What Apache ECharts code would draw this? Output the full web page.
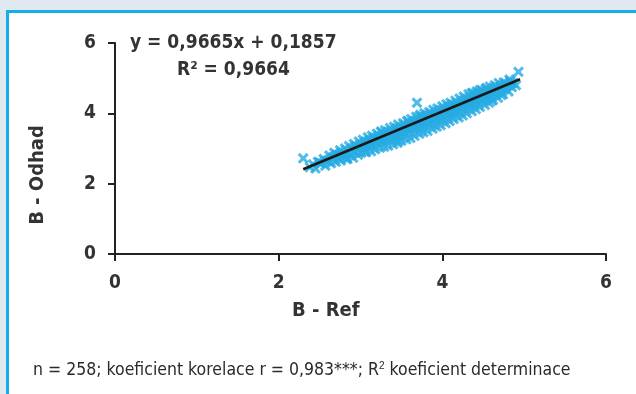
<!DOCTYPE html>
<html>
<head>
<meta charset="utf-8">
<script src="https://cdn.jsdelivr.net/npm/echarts@6/dist/echarts.min.js"></script>
<style>
  html, body { margin: 0; padding: 0; background: #dfe9ef; }
  #chart { width: 636px; height: 394px; }
</style>
</head>
<body>
<div id="chart"></div>
<script>
// B - Ref (x), B - Odhad (y)
var bRef = [
    2.38, 2.42, 2.45, 2.48, 2.52, 2.55, 2.57, 2.60, 2.62, 2.64, 2.66, 2.68, 2.70, 2.71, 2.73, 2.75,
    2.76, 2.78, 2.80, 2.81, 2.83, 2.85, 2.86, 2.88, 2.89, 2.91, 2.92, 2.94, 2.95, 2.97, 2.98, 3.00,
    3.01, 3.03, 3.04, 3.06, 3.07, 3.09, 3.10, 3.11, 3.13, 3.14, 3.15, 3.17, 3.18, 3.20, 3.21, 3.22,
    3.24, 3.25, 3.26, 3.28, 3.29, 3.30, 3.32, 3.33, 3.34, 3.36, 3.37, 3.38, 3.40, 3.41, 3.42, 3.44,
    3.45, 3.46, 3.48, 3.49, 3.50, 3.52, 3.53, 3.54, 3.56, 3.57, 3.58, 3.60, 3.61, 3.62, 3.64, 3.65,
    3.66, 3.68, 3.69, 3.70, 3.72, 3.73, 3.74, 3.76, 3.77, 3.78, 3.80, 3.81, 3.82, 3.84, 3.85, 3.86,
    3.88, 3.89, 3.90, 3.92, 3.93, 3.94, 3.96, 3.97, 3.98, 4.00, 4.01, 4.02, 4.04, 4.05, 4.06, 4.08,
    4.09, 4.10, 4.12, 4.13, 4.14, 4.16, 4.17, 4.18, 4.20, 4.21, 4.22, 4.24, 4.25, 4.26, 4.28, 4.29,
    4.30, 4.32, 4.33, 4.34, 4.36, 4.37, 4.38, 4.40, 4.41, 4.42, 4.44, 4.45, 4.46, 4.48, 4.49, 4.50,
    4.52, 4.53, 4.54, 4.56, 4.57, 4.58, 4.60, 4.61, 4.62, 4.64, 4.65, 4.66, 4.68, 4.69, 4.70, 4.72,
    4.74, 4.75, 4.77, 4.79, 4.81, 4.83, 4.85, 4.87, 4.90,
    2.50, 2.58, 2.67, 2.74, 2.82, 2.90, 2.96, 3.02, 3.08, 3.12, 3.16, 3.19, 3.23, 3.27, 3.31, 3.35,
    3.39, 3.43, 3.47, 3.51, 3.55, 3.59, 3.63, 3.67, 3.71, 3.75, 3.79, 3.83, 3.87, 3.91, 3.95, 3.99,
    4.03, 4.07, 4.11, 4.15, 4.19, 4.23, 4.27, 4.31, 4.35, 4.39, 4.43, 4.47, 4.51, 4.55, 4.59, 4.63,
    4.67, 4.71, 4.76, 4.80, 4.84, 3.36, 3.44, 3.52, 3.60, 3.68, 3.76, 3.84, 3.92, 4.00, 4.08, 4.16,
    4.24, 4.32, 4.40, 4.48, 4.56, 4.64, 3.58, 3.72, 4.36, 4.46, 4.54, 3.26, 3.06, 3.46, 2.84, 4.72,
    4.82, 4.60, 2.30, 3.69, 4.93
];
var bOdhad = [
    2.47, 2.55, 2.43, 2.62, 2.58, 2.70, 2.51, 2.66, 2.80, 2.58, 2.72, 2.88, 2.62, 2.82, 2.72, 2.95,
    2.66, 2.88, 2.76, 3.00, 2.70, 2.90, 3.07, 2.80, 2.97, 2.74, 3.13, 2.90, 3.02, 2.82, 3.20, 3.05,
    2.88, 3.25, 3.00, 3.12, 2.90, 3.32, 3.06, 3.18, 2.92, 3.36, 3.10, 3.22, 2.98, 3.42, 3.15, 3.28,
    3.02, 3.48, 3.20, 3.32, 3.05, 3.52, 3.24, 3.38, 3.08, 3.58, 3.28, 3.42, 3.12, 3.62, 3.34, 3.48,
    3.16, 3.68, 3.38, 3.52, 3.22, 3.72, 3.44, 3.58, 3.26, 3.78, 3.48, 3.64, 3.30, 3.84, 3.54, 3.68,
    3.36, 3.90, 3.58, 3.72, 3.42, 3.96, 3.62, 3.78, 3.46, 4.00, 3.68, 3.82, 3.50, 4.04, 3.72, 3.88,
    3.56, 4.10, 3.78, 3.92, 3.62, 4.14, 3.84, 3.98, 3.66, 4.20, 3.88, 4.02, 3.72, 4.26, 3.94, 4.08,
    3.78, 4.30, 3.98, 4.14, 3.84, 4.36, 4.04, 4.18, 3.88, 4.42, 4.10, 4.24, 3.94, 4.48, 4.16, 4.30,
    4.00, 4.54, 4.22, 4.34, 4.06, 4.58, 4.28, 4.40, 4.12, 4.62, 4.32, 4.46, 4.18, 4.66, 4.38, 4.52,
    4.24, 4.70, 4.44, 4.56, 4.30, 4.76, 4.50, 4.62, 4.38, 4.80, 4.56, 4.68, 4.44, 4.86, 4.62, 4.74,
    4.54, 4.88, 4.70, 4.80, 4.62, 4.92, 4.74, 4.86, 4.80,
    2.60, 2.64, 2.76, 2.82, 2.84, 2.96, 3.04, 3.10, 3.14, 3.22, 3.24, 3.26, 3.32, 3.34, 3.38, 3.42,
    3.46, 3.50, 3.54, 3.58, 3.60, 3.66, 3.70, 3.74, 3.78, 3.82, 3.86, 3.90, 3.94, 3.98, 4.02, 4.06,
    4.10, 4.14, 4.18, 4.20, 4.24, 4.28, 4.32, 4.36, 4.40, 4.44, 4.48, 4.52, 4.56, 4.60, 4.64, 4.68,
    4.72, 4.76, 4.80, 4.82, 4.86, 3.30, 3.38, 3.48, 3.56, 3.64, 3.70, 3.78, 3.86, 3.94, 4.00, 4.10,
    4.16, 4.26, 4.30, 4.42, 4.48, 4.60, 3.78, 3.92, 4.58, 4.66, 4.72, 3.46, 2.90, 3.20, 2.70, 4.52,
    4.96, 4.36, 2.72, 4.30, 5.18
];
// trend line ends as drawn
var trendX = [2.3, 4.95];
var trendY = [2.41, 4.97];
var axisTicks = [0, 2, 4, 6];

var points = bRef.map(function (x, i) { return [x, bOdhad[i]]; });
var trend = trendX.map(function (x, i) { return [x, trendY[i]]; });

var crossPath = 'path://M2,0L5,3L8,0L10,2L7,5L10,8L8,10L5,7L2,10L0,8L3,5L0,2Z';
var boldFont = '"Liberation Sans Narrow", "DejaVu Sans Condensed", sans-serif';

var myChart = echarts.init(document.getElementById('chart'));

var axisCommon = {
    type: 'value',
    min: axisTicks[0],
    max: axisTicks[axisTicks.length - 1],
    interval: 2,
    axisLine: { onZero: false, lineStyle: { color: '#222', width: 2 } },
    axisTick: { show: true, inside: false, length: 7, lineStyle: { color: '#222', width: 2 } },
    splitLine: { show: false },
    axisLabel: {
        color: '#333',
        fontFamily: boldFont,
        fontWeight: 'bold',
        fontSize: 19
    }
};

var option = {
    backgroundColor: '#dfe9ef',
    animation: false,
    grid: {
        left: 115,
        top: 43,
        right: 30,
        bottom: 140,
        outerBoundsMode: 'none'
    },
    xAxis: echarts.util.merge({ axisLabel: { margin: 20 } }, axisCommon, true),
    yAxis: echarts.util.merge({ axisLabel: { margin: 19 } }, axisCommon, true),
    graphic: [
        {
            type: 'rect', z: -10, silent: true,
            shape: { x: 7.5, y: 11.5, width: 700, height: 500 },
            style: { fill: '#fff', stroke: '#15aee8', lineWidth: 3 }
        },
        {
            type: 'text', left: 130, top: 34,
            style: { text: 'y = 0,9665x + 0,1857', fill: '#333', font: 'bold 19px ' + boldFont }
        },
        {
            type: 'text', left: 177, top: 61,
            style: { text: 'R² = 0,9664', fill: '#333', font: 'bold 19px ' + boldFont }
        },
        {
            type: 'text', left: 292, top: 301,
            style: { text: 'B - Ref', fill: '#333', font: 'bold 20px ' + boldFont }
        },
        {
            type: 'text', x: 38, y: 175, rotation: Math.PI / 2,
            style: {
                text: 'B - Odhad', fill: '#333', font: 'bold 20px ' + boldFont,
                align: 'center', verticalAlign: 'middle'
            }
        },
        {
            type: 'text', left: 33, top: 361,
            style: {
                text: 'n = 258; koeficient korelace r = 0,983***; R{s|2} koeficient determinace',
                fill: '#2a2a2a', font: '17.5px "Liberation Sans Narrow", "DejaVu Sans Condensed", sans-serif',
                rich: { s: { fontSize: 10, verticalAlign: 'top', padding: [0, 0, 8, 0], fill: '#2a2a2a' } }
            }
        }
    ],
    series: [
        {
            type: 'scatter',
            data: points,
            symbol: crossPath,
            symbolSize: 11,
            itemStyle: { color: '#27abe2' }
        },
        {
            type: 'line',
            data: trend,
            symbol: 'none',
            z: 5,
            lineStyle: { color: '#1a1a1a', width: 2.5 }
        }
    ]
};

myChart.setOption(option);
</script>
</body>
</html>
